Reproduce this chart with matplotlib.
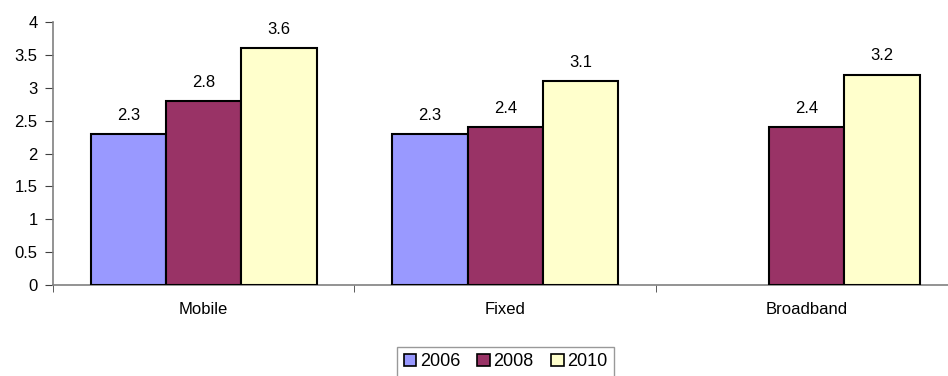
import numpy as np
import matplotlib
matplotlib.use("Agg")
import matplotlib.pyplot as plt

categories = ["Mobile", "Fixed", "Broadband"]
years = ["2006", "2008", "2010"]
values_2006 = [2.3, 2.3, np.nan]
values_2008 = [2.8, 2.4, 2.4]
values_2010 = [3.6, 3.1, 3.2]
series = [values_2006, values_2008, values_2010]
colors = ["#9999FF", "#993366", "#FFFFCC"]
y_ticks = [0, 0.5, 1, 1.5, 2, 2.5, 3, 3.5, 4]
y_tick_labels = ["0", "0.5", "1", "1.5", "2", "2.5", "3", "3.5", "4"]

plt.rcParams["font.family"] = ["Liberation Sans", "DejaVu Sans"]
plt.rcParams["font.size"] = 12

fig = plt.figure(figsize=(9.48, 3.76), dpi=100)
W, H = 948, 376
ax = fig.add_axes([53 / W, 1 - 285 / H, (957.5 - 53) / W, (285 - 22) / H])

x = np.arange(len(categories)) + 0.5
width = 0.25
offsets = [-width, 0, width]
for vals, col, off, yr in zip(series, colors, offsets, years):
    vals = np.array(vals, dtype=float)
    mask = ~np.isnan(vals)
    bars = ax.bar(x[mask] + off, vals[mask], width, color=col,
                  edgecolor="black", linewidth=1.5, label=yr, zorder=3)
    ax.bar_label(bars, labels=[f"{v:g}" for v in vals[mask]], padding=8,
                 fontsize=12)

ax.set_xlim(0, 3)
ax.set_ylim(0, 4)
ax.set_yticks(y_ticks)
ax.set_yticklabels(y_tick_labels)
ax.set_xticks(x)
ax.set_xticklabels(categories)
ax.set_xticks([0, 1, 2, 3], minor=True)
ax.tick_params(axis="x", which="major", length=0, pad=12, labelsize=12)
ax.tick_params(axis="x", which="minor", length=5, color="#404040", direction="out")
ax.tick_params(axis="y", length=6, color="#404040", pad=5, labelsize=12)

for s in ["top", "right"]:
    ax.spines[s].set_visible(False)
for s in ["left", "bottom"]:
    ax.spines[s].set_color("#808080")
    ax.spines[s].set_linewidth(1.2)

leg = fig.legend(loc="upper center", bbox_to_anchor=(505.5 / W, 1 - 347 / H),
                 ncol=3, frameon=True, fancybox=False, edgecolor="#808080",
                 handlelength=0.7, handleheight=0.7, handletextpad=0.2,
                 columnspacing=0.95, borderpad=0.35, fontsize=13,
                 borderaxespad=0)
leg.get_frame().set_linewidth(1.0)
for h in leg.legend_handles:
    h.set_linewidth(1.2)

fig.savefig("out.png", dpi=100)
